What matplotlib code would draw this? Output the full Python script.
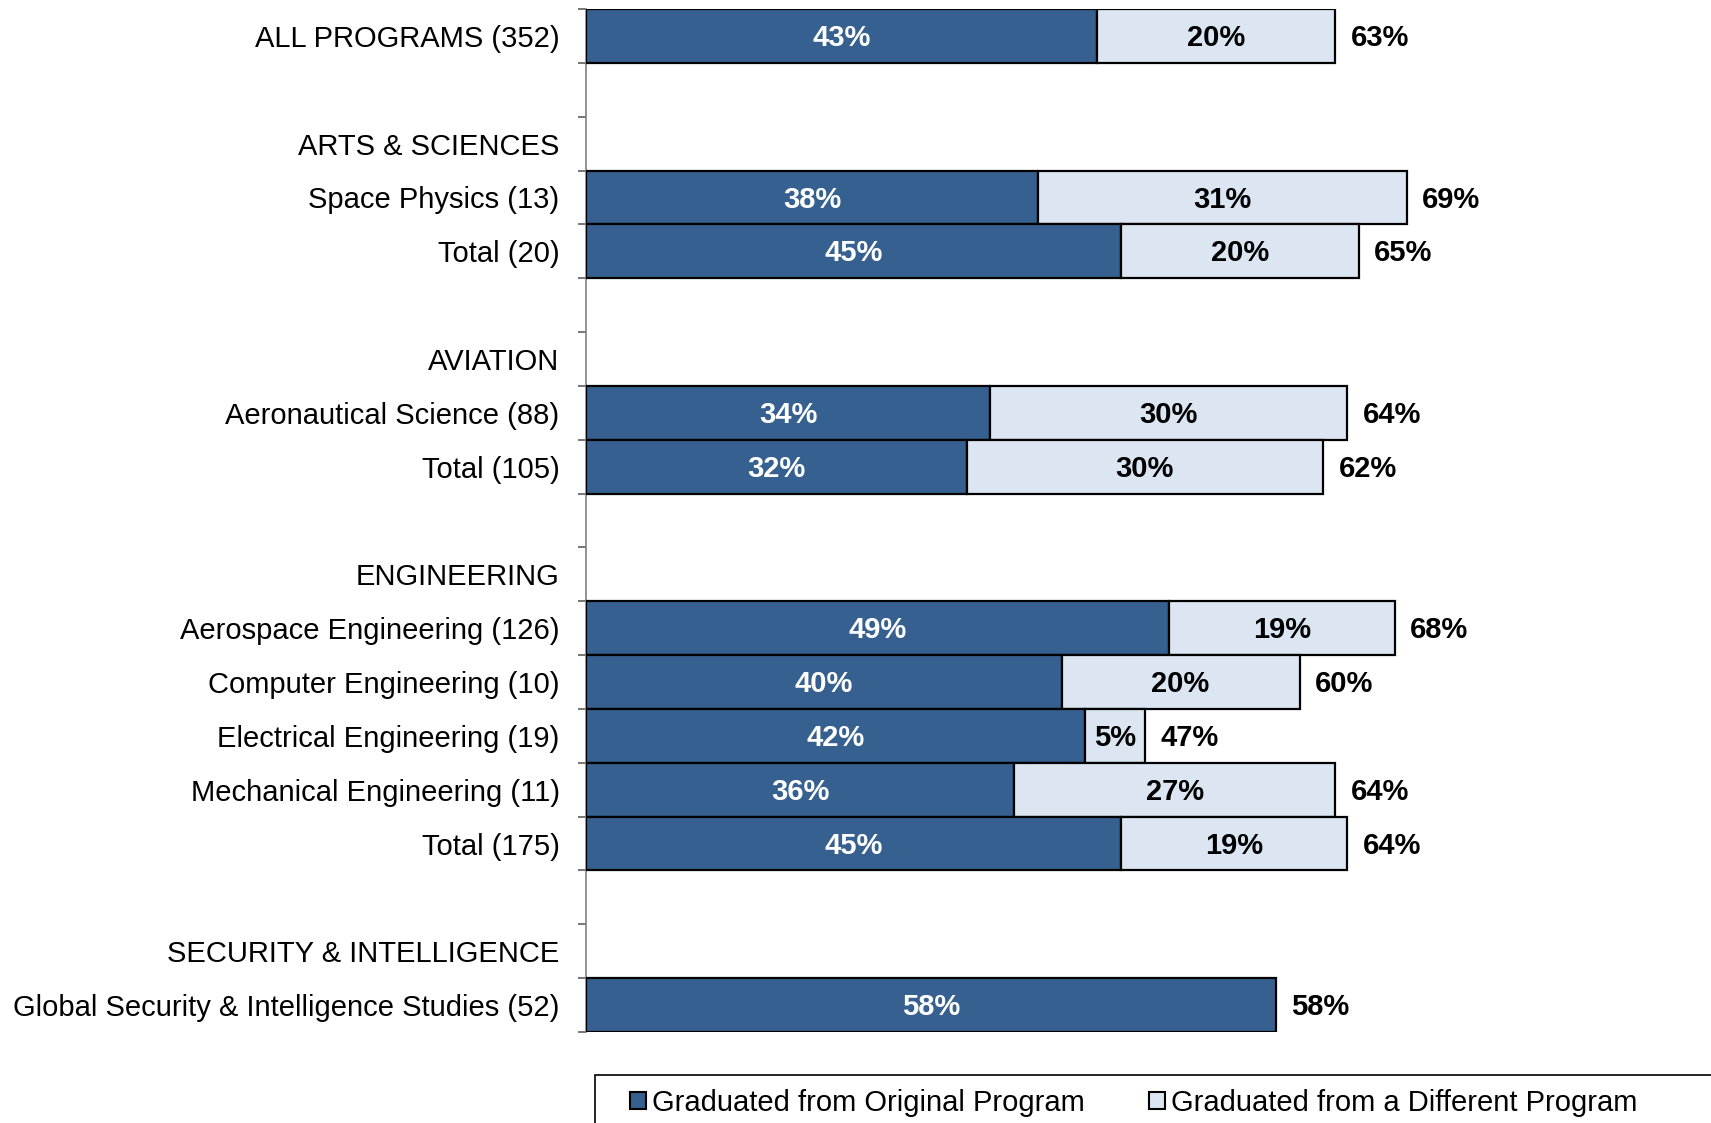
import matplotlib
matplotlib.use("Agg")
import matplotlib.pyplot as plt
from matplotlib.patches import Patch, Rectangle
import numpy as np

plt.rcParams['font.family'] = ['Liberation Sans', 'DejaVu Sans']

# one row per slot on the y axis; None = header / spacer row with no bar
labels = [
    "ALL PROGRAMS (352)", "",
    "ARTS & SCIENCES", "Space Physics (13)", "Total (20)", "",
    "AVIATION", "Aeronautical Science (88)", "Total (105)", "",
    "ENGINEERING", "Aerospace Engineering (126)", "Computer Engineering (10)",
    "Electrical Engineering (19)", "Mechanical Engineering (11)", "Total (175)", "",
    "SECURITY & INTELLIGENCE", "Global Security & Intelligence Studies (52)",
]
original = [43, None, None, 38, 45, None, None, 34, 32, None, None,
            49, 40, 42, 36, 45, None, None, 58]
different = [20, None, None, 31, 20, None, None, 30, 30, None, None,
             19, 20, 5, 27, 19, None, None, 0]
totals = [63, None, None, 69, 65, None, None, 64, 62, None, None,
          68, 60, 47, 64, 64, None, None, 58]

dark = "#36608f"
light = "#dce6f2"

fig = plt.figure(figsize=(17.11, 11.23), dpi=100)
ax = fig.add_axes([586 / 1711, 1 - 1032 / 1123, 1 - 586 / 1711, (1032 - 9) / 1123])

y = np.arange(len(labels))
for i in y:
    o, d, t = original[i], different[i], totals[i]
    if o is None:
        continue
    ax.barh(i, o, height=1.0, color=dark, edgecolor="black", linewidth=1.6, zorder=3)
    ax.text(o / 2, i + 0.04, f"{o}%", ha="center", va="center", color="white",
            fontsize=21, fontweight="bold", zorder=4)
    if d:
        ax.barh(i, d, left=o, height=1.0, color=light, edgecolor="black",
                linewidth=1.6, zorder=3)
        ax.text(o + d / 2, i + 0.04, f"{d}%", ha="center", va="center", color="black",
                fontsize=21, fontweight="bold", zorder=4)
    ax.annotate(f"{t}%", (o + d, i + 0.04), xytext=(11, 0), textcoords="offset points",
                ha="left", va="center", fontsize=21, fontweight="bold")

ax.set_xlim(0, 94.6)
ax.set_ylim(len(labels) - 0.5, -0.5)

ax.set_yticks(y)
ax.set_yticklabels(labels, fontsize=21)
ax.tick_params(axis="y", which="major", length=0, pad=19)
ax.set_yticks(np.arange(-0.5, len(labels), 1.0), minor=True)
ax.tick_params(axis="y", which="minor", length=6, width=1.2, color="#606060")
ax.set_xticks([])

for s in ["top", "right", "bottom"]:
    ax.spines[s].set_visible(False)
ax.spines["left"].set_color("#808080")
ax.spines["left"].set_linewidth(1.2)

# legend frame runs off the right and bottom edges, as in the original
fig.patches.append(Rectangle((595 / 1711, -0.05), 0.8, 0.05 + 48 / 1123,
                             transform=fig.transFigure, fill=False,
                             edgecolor="black", linewidth=1.2))

handles = [Patch(facecolor=dark, edgecolor="black", linewidth=1.5),
           Patch(facecolor=light, edgecolor="black", linewidth=1.5)]
fig.legend(handles, ["Graduated from Original Program",
                     "Graduated from a Different Program"],
           loc="center left", bbox_to_anchor=(630 / 1711, 1 - 1103 / 1123),
           ncol=2, fontsize=21, frameon=False,
           handlelength=0.55, handleheight=0.55, handletextpad=0.2,
           columnspacing=2.2, borderpad=0, borderaxespad=0)

fig.savefig("out.png", dpi=100)
